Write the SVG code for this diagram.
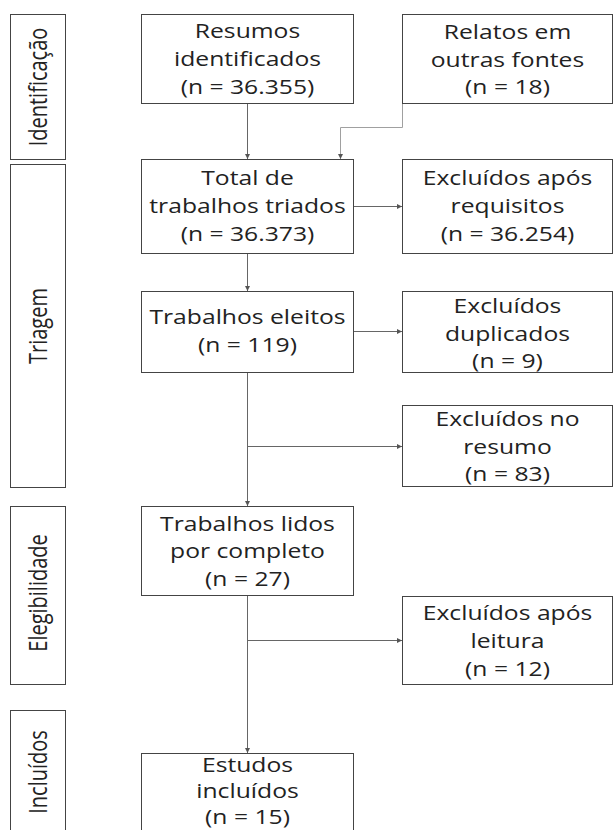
<svg xmlns="http://www.w3.org/2000/svg" width="613" height="830" viewBox="0 0 613 830">
<style>
  .box { fill: #ffffff; stroke: #444444; stroke-width: 1; }
  .t { font-family: "Open Sans", "Liberation Sans", sans-serif; font-size: 19.6px; fill: #222222; text-anchor: middle; }
  .v { font-size: 20px; }
  .c { fill: none; stroke: #666666; stroke-width: 1; }
  .cl { fill: none; stroke: #a0a0a0; stroke-width: 1; }
</style>
<defs>
  <marker id="ah" markerUnits="userSpaceOnUse" markerWidth="5" markerHeight="5" refX="5" refY="2.5" orient="auto">
    <path d="M0,0 L5,2.5 L0,5 z" fill="#555555"/>
  </marker>
</defs>
<rect x="0" y="0" width="613" height="830" fill="#ffffff"/>

<g id="stage-identificacao">
  <rect class="box" x="10.5" y="14.5" width="55" height="145"/>
  <text class="t v" transform="translate(46.5,87) scale(1.26,1) rotate(-90)">Identificação</text>
</g>
<g id="stage-triagem">
  <rect class="box" x="10.5" y="164.5" width="55" height="323"/>
  <text class="t v" transform="translate(46.5,326) scale(1.26,1) rotate(-90)">Triagem</text>
</g>
<g id="stage-elegibilidade">
  <rect class="box" x="10.5" y="506.5" width="55" height="178"/>
  <text class="t v" transform="translate(46.5,593) scale(1.26,1) rotate(-90)">Elegibilidade</text>
</g>
<g id="stage-incluidos">
  <rect class="box" x="10.5" y="710.5" width="55" height="140"/>
  <text class="t v" transform="translate(46.5,772) scale(1.26,1) rotate(-90)">Incluídos</text>
</g>

<g id="connectors">
  <path class="c" d="M247.5,103.5 V159" marker-end="url(#ah)"/>
  <path class="cl" d="M402.5,103.5 V127.5 H340.5 V159" marker-end="url(#ah)"/>
  <path class="c" d="M353.5,206.5 H402" marker-end="url(#ah)"/>
  <path class="c" d="M247.5,253.5 V291" marker-end="url(#ah)"/>
  <path class="c" d="M353.5,331.5 H402" marker-end="url(#ah)"/>
  <path class="c" d="M247.5,372.5 V506" marker-end="url(#ah)"/>
  <path class="c" d="M247.5,446.5 H402" marker-end="url(#ah)"/>
  <path class="c" d="M247.5,595.5 V753" marker-end="url(#ah)"/>
  <path class="c" d="M247.5,640.5 H402" marker-end="url(#ah)"/>
</g>

<g id="resumos">
  <rect class="box" x="141.5" y="14.5" width="212" height="89"/>
  <text class="t" transform="translate(247.5,38) scale(1.26,1)"><tspan x="0" y="0">Resumos</tspan><tspan x="0" y="28">identificados</tspan><tspan x="0" y="56">(n = 36.355)</tspan></text>
</g>
<g id="relatos">
  <rect class="box" x="402.5" y="14.5" width="210" height="89"/>
  <text class="t" transform="translate(507.5,39) scale(1.26,1)"><tspan x="0" y="0">Relatos em</tspan><tspan x="0" y="28">outras fontes</tspan><tspan x="0" y="55">(n = 18)</tspan></text>
</g>
<g id="total">
  <rect class="box" x="141.5" y="159.5" width="212" height="94"/>
  <text class="t" transform="translate(247.5,185) scale(1.26,1)"><tspan x="0" y="0">Total de</tspan><tspan x="0" y="28">trabalhos triados</tspan><tspan x="0" y="56">(n = 36.373)</tspan></text>
</g>
<g id="excluidos-requisitos">
  <rect class="box" x="402.5" y="159.5" width="210" height="94"/>
  <text class="t" transform="translate(507.5,185) scale(1.26,1)"><tspan x="0" y="0">Excluídos após</tspan><tspan x="0" y="28">requisitos</tspan><tspan x="0" y="56">(n = 36.254)</tspan></text>
</g>
<g id="eleitos">
  <rect class="box" x="141.5" y="291.5" width="212" height="81"/>
  <text class="t" transform="translate(247.5,324) scale(1.26,1)"><tspan x="0" y="0">Trabalhos eleitos</tspan><tspan x="0" y="28">(n = 119)</tspan></text>
</g>
<g id="excluidos-duplicados">
  <rect class="box" x="402.5" y="291.5" width="210" height="81"/>
  <text class="t" transform="translate(507.5,313) scale(1.26,1)"><tspan x="0" y="0">Excluídos</tspan><tspan x="0" y="28">duplicados</tspan><tspan x="0" y="55.5">(n = 9)</tspan></text>
</g>
<g id="excluidos-resumo">
  <rect class="box" x="402.5" y="405.5" width="210" height="81"/>
  <text class="t" transform="translate(507.5,426) scale(1.26,1)"><tspan x="0" y="0">Excluídos no</tspan><tspan x="0" y="28">resumo</tspan><tspan x="0" y="55.5">(n = 83)</tspan></text>
</g>
<g id="lidos">
  <rect class="box" x="141.5" y="506.5" width="212" height="89"/>
  <text class="t" transform="translate(247.5,531) scale(1.26,1)"><tspan x="0" y="0">Trabalhos lidos</tspan><tspan x="0" y="27.5">por completo</tspan><tspan x="0" y="55">(n = 27)</tspan></text>
</g>
<g id="excluidos-leitura">
  <rect class="box" x="402.5" y="596.5" width="210" height="88"/>
  <text class="t" transform="translate(507.5,620) scale(1.26,1)"><tspan x="0" y="0">Excluídos após</tspan><tspan x="0" y="28">leitura</tspan><tspan x="0" y="56">(n = 12)</tspan></text>
</g>
<g id="estudos">
  <rect class="box" x="141.5" y="753.5" width="212" height="100"/>
  <text class="t" transform="translate(247.5,772) scale(1.26,1)"><tspan x="0" y="0">Estudos</tspan><tspan x="0" y="26.5">incluídos</tspan><tspan x="0" y="52">(n = 15)</tspan></text>
</g>
</svg>
